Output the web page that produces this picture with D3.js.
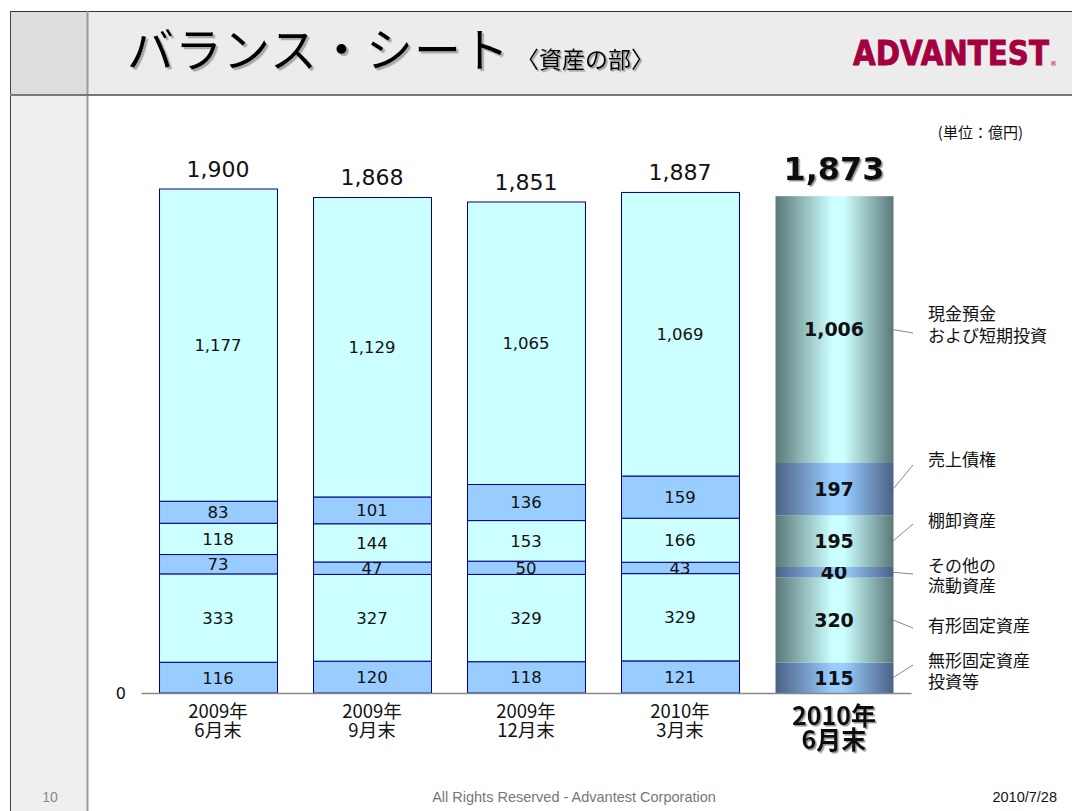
<!DOCTYPE html>
<html><head><meta charset="utf-8">
<script src="https://cdn.jsdelivr.net/npm/d3@7"></script>
<style>
html,body{margin:0;padding:0;background:#fff;}
svg{display:block;}
</style></head>
<body>
<svg id="c" width="1072" height="811"></svg>
<script>
// ---- data ----
const categories = ["2009年6月末","2009年9月末","2009年12月末","2010年3月末","2010年6月末"];
const categoryLines = [["2009年","6月末"],["2009年","9月末"],["2009年","12月末"],["2010年","3月末"],["2010年","6月末"]];
const seriesNames = ["無形固定資産投資等","有形固定資産","その他の流動資産","棚卸資産","売上債権","現金預金および短期投資"];
const legendLines = [["無形固定資産","投資等"],["有形固定資産"],["その他の","流動資産"],["棚卸資産"],["売上債権"],["現金預金","および短期投資"]];
const intangibleInvest = [116,120,118,121,115];
const tangibleFixed    = [333,327,329,329,320];
const otherCurrent     = [73,47,50,43,40];
const inventories      = [118,144,153,166,195];
const receivables      = [83,101,136,159,197];
const cashShortTerm    = [1177,1129,1065,1069,1006];
const totals           = [1900,1868,1851,1887,1873];
const yTicks = [0];
const unitLabel = "(単位：億円)";

const svg = d3.select("#c");
const JP = "'Noto Sans CJK JP','Noto Sans',sans-serif";
const NUM = "'DejaVu Sans','Noto Sans',sans-serif";

// ---- slide frame ----
svg.append("rect").attr("x",10).attr("y",11).attr("width",1062).attr("height",84).attr("fill","#ececec");
svg.append("rect").attr("x",10).attr("y",11).attr("width",77).attr("height",84).attr("fill","#dddddd");
svg.append("rect").attr("x",10).attr("y",96).attr("width",77).attr("height",715).attr("fill","#efefef");
svg.append("line").attr("x1",10).attr("x2",1072).attr("y1",11.5).attr("y2",11.5).attr("stroke","#333").attr("stroke-width",1);
svg.append("line").attr("x1",10.5).attr("x2",10.5).attr("y1",11).attr("y2",811).attr("stroke","#444").attr("stroke-width",1);
svg.append("line").attr("x1",87.5).attr("x2",87.5).attr("y1",11).attr("y2",811).attr("stroke","#999").attr("stroke-width",2);
svg.append("line").attr("x1",10).attr("x2",1072).attr("y1",95).attr("y2",95).attr("stroke","#777").attr("stroke-width",2);

const defs = svg.append("defs");
function dropShadow(id, dx, col){
  const f = defs.append("filter").attr("id",id).attr("x","-10%").attr("y","-20%").attr("width","130%").attr("height","150%");
  f.append("feDropShadow").attr("dx",dx).attr("dy",dx).attr("stdDeviation",0.6).attr("flood-color",col).attr("flood-opacity",0.9);
}
dropShadow("sh",1.5,"#888");
dropShadow("shT",2.2,"#a0a0a0");

// title
svg.append("text").attr("x",127).attr("y",67).attr("font-family",JP).attr("font-size",47)
  .attr("letter-spacing",1).attr("fill","#000").attr("filter","url(#shT)").text("バランス・シート");
svg.append("text").attr("x",516).attr("y",68).attr("font-family",JP).attr("font-size",23)
  .attr("fill","#000").attr("filter","url(#sh)").text("〈資産の部〉");
// logo
svg.append("text").attr("transform","translate(853,65) scale(1,1.16)").attr("x",0).attr("y",0)
  .attr("font-family","'DejaVu Sans',sans-serif")
  .attr("font-weight","bold").attr("font-size",29.3).attr("fill","#a3003f")
  .attr("stroke","#a3003f").attr("stroke-width",0.8).text("ADVANTEST");
svg.append("text").attr("x",1050).attr("y",66).attr("font-family","'DejaVu Sans',sans-serif")
  .attr("font-size",7).attr("fill","#a3003f").text("®");

// ---- chart ----
const x = d3.scaleBand().domain(categories).range([141,911]).paddingInner(0.234).paddingOuter(0.117);
const y = d3.scaleLinear().domain([0,1900]).range([693,189]);

function grad(id, edge, mid){
  const g = defs.append("linearGradient").attr("id",id).attr("x1","0%").attr("x2","100%").attr("y1","0%").attr("y2","0%");
  [[0,edge],[0.48,mid],[0.58,mid],[1,edge]].forEach(([o,c])=>g.append("stop").attr("offset",o).attr("stop-color",c));
}
grad("gCyan","#5b7878","#ccffff");
grad("gBlue","#4a6185","#99ccff");

const seriesVals = [intangibleInvest,tangibleFixed,otherCurrent,inventories,receivables,cashShortTerm];
const table = categories.map((c,i)=>{ const o={cat:c}; seriesNames.forEach((s,k)=>o[s]=seriesVals[k][i]); return o; });
const stacked = d3.stack().keys(seriesNames)(table);
const lastCat = categories[categories.length-1];

stacked.forEach((layer,k)=>{
  const blue = (k%2===0);
  const g = svg.append("g");
  g.selectAll("rect").data(layer).join("rect")
    .attr("x",d=>x(d.data.cat)+0.5)
    .attr("y",d=>y(d[1]))
    .attr("width",x.bandwidth())
    .attr("height",d=>y(d[0])-y(d[1]))
    .attr("fill",d=> d.data.cat===lastCat ? (blue?"url(#gBlue)":"url(#gCyan)") : (blue?"#99ccff":"#ccffff"))
    .attr("stroke",d=> d.data.cat===lastCat ? "none" : "#000080")
    .attr("stroke-width",1);
  g.selectAll("text").data(layer).join("text")
    .attr("x",d=>x(d.data.cat)+x.bandwidth()/2)
    .attr("y",d=>(y(d[0])+y(d[1]))/2)
    .attr("dy","0.36em")
    .attr("text-anchor","middle")
    .attr("font-family",NUM)
    .attr("font-size",d=>d.data.cat===lastCat?19:16.5)
    .attr("font-weight",d=>d.data.cat===lastCat?"bold":"normal")
    .attr("fill","#111")
    .text(d=>d3.format(",")(d[1]-d[0]));
});

// totals
svg.append("g").selectAll("text").data(categories).join("text")
  .attr("x",c=>x(c)+x.bandwidth()/2)
  .attr("y",(c,i)=>y(totals[i])-(c===lastCat?16:12))
  .attr("text-anchor","middle")
  .attr("font-family",NUM)
  .attr("font-size",c=>c===lastCat?32:22)
  .attr("font-weight",c=>c===lastCat?"bold":"normal")
  .attr("filter",c=>c===lastCat?"url(#sh)":null)
  .attr("fill","#111")
  .text((c,i)=>d3.format(",")(totals[i]));

// axis baseline + zero
const xAxis = svg.append("g").attr("transform",`translate(0,${y(0)})`)
  .call(d3.axisBottom(x).tickSize(0).tickFormat(""));
xAxis.select(".domain").attr("stroke","#888").attr("stroke-width",1.3);
const yAxis = svg.append("g").attr("transform","translate(132,0)")
  .call(d3.axisLeft(y).tickValues(yTicks).tickSize(0).tickFormat(d3.format(",")));
yAxis.select(".domain").remove();
yAxis.selectAll("text").attr("font-family",NUM).attr("font-size",16).attr("fill","#111").attr("dx","-0.2em");

// category labels (one text element with tspans per category)
svg.append("g").selectAll("text").data(categories).join("text")
  .attr("text-anchor","middle").attr("font-family",JP)
  .attr("font-size",c=>c===lastCat?25:18.5)
  .attr("font-weight",c=>c===lastCat?"bold":"normal")
  .attr("filter",c=>c===lastCat?"url(#sh)":null)
  .attr("fill","#111")
  .each(function(c,i){
    const t = d3.select(this);
    const last = c===lastCat;
    const cx = x(c)+x.bandwidth()/2;
    categoryLines[i].forEach((ln,j)=>{
      t.append("tspan").attr("x",cx).attr("y",last?(725+j*24):(718+j*18.5)).text(ln);
    });
  });

// legend labels with leader lines (for last bar)
const lastIdx = categories.length-1;
const legendY = [[667,688],[632],[572,592],[527],[466],[320,342]];
const leaderEnd = [665,628,574,524,465,333];
const right = x(lastCat)+x.bandwidth();
stacked.forEach((layer,k)=>{
  const d = layer[lastIdx];
  const midY = (y(d[0])+y(d[1]))/2;
  svg.append("line").attr("x1",right).attr("y1",midY).attr("x2",913).attr("y2",leaderEnd[k])
    .attr("stroke","#888").attr("stroke-width",1);
  const t = svg.append("text").attr("font-family",JP).attr("font-size",17).attr("fill","#111");
  legendLines[k].forEach((ln,j)=>{
    t.append("tspan").attr("x",928).attr("y",legendY[k][j]).text(ln);
  });
});

svg.append("text").attr("x",1023).attr("y",138).attr("text-anchor","end").attr("font-family",JP)
  .attr("font-size",15).attr("fill","#111").text(unitLabel);

// footer
svg.append("text").attr("x",50).attr("y",802).attr("text-anchor","middle").attr("font-family","'Liberation Sans',sans-serif")
  .attr("font-size",14).attr("fill","#888").text("10");
svg.append("text").attr("x",574).attr("y",802).attr("text-anchor","middle").attr("font-family","'Liberation Sans',sans-serif")
  .attr("font-size",14.5).attr("fill","#777").text("All Rights Reserved - Advantest Corporation");
svg.append("text").attr("x",1057).attr("y",802).attr("text-anchor","end").attr("font-family","'Liberation Sans',sans-serif")
  .attr("font-size",14.5).attr("fill","#111").text("2010/7/28");
</script>
</body></html>
